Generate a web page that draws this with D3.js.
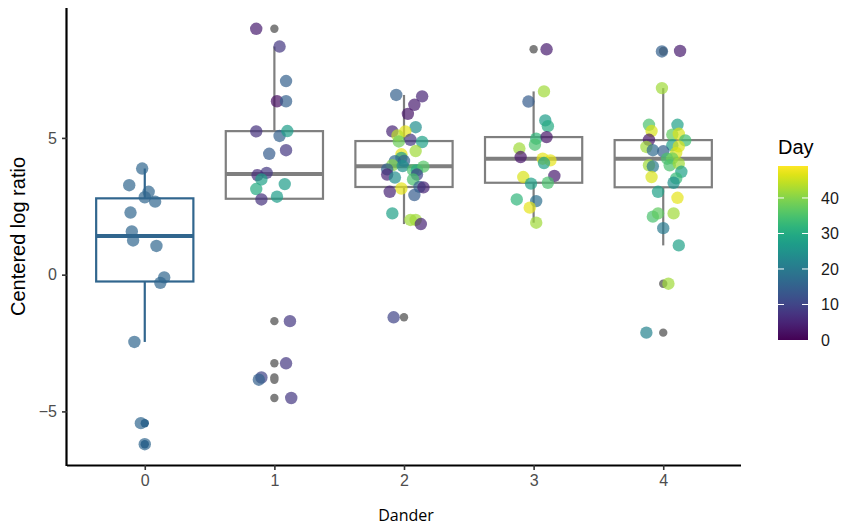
<!DOCTYPE html>
<html>
<head>
<meta charset="utf-8">
<script src="https://cdn.jsdelivr.net/npm/d3@7"></script>
<style>
  body { margin: 0; background: #fff; }
  svg { display: block; }
</style>
</head>
<body>
<svg id="chart" width="851" height="530"></svg>
<script>
// ---- data ----
const categories = ["0", "1", "2", "3", "4"];
const yTicks = [-5, 0, 5];
const dayTicks = [0, 10, 20, 30, 40];
const dayMax = 49;

const clr0 = [3.88, 3.27, 3.03, 2.83, 2.67, 2.27, 1.58, 1.25, 1.05, -0.10, -0.30, -2.46, -5.43, -6.20];
const day0 = [16, 16, 16, 16, 16, 16, 16, 16, 16, 16, 16, 16, 16, 16];
const jit0 = [-0.02, -0.12, 0.03, 0.00, 0.08, -0.11, -0.10, -0.09, 0.09, 0.15, 0.12, -0.08, -0.03, 0.00];

const clr1 = [8.99, 8.34, 7.08, 6.34, 6.34, 5.24, 5.07, 5.25, 4.55, 4.42, 3.72, 3.64, 3.48, 3.31, 3.13, 2.85, 2.75, -1.70, -3.24, -3.76, -3.84, -4.51];
const day1 = [4, 8, 15, 2, 15, 7, 15, 27, 8, 14, 8, 6, 28, 27, 30, 27, 7, 8, 8, 10, 15, 8];
const jit1 = [-0.14, 0.04, 0.09, 0.02, 0.09, -0.14, 0.04, 0.10, 0.09, -0.04, -0.06, -0.13, -0.10, 0.08, -0.14, 0.02, -0.10, 0.12, 0.09, -0.10, -0.12, 0.13];

const clr2 = [6.57, 6.52, 6.21, 5.88, 5.39, 5.24, 5.24, 5.09, 4.87, 4.93, 4.85, 4.52, 4.40, 4.27, 4.15, 4.16, 4.00, 3.97, 3.82, 3.82, 3.95, 3.85, 3.66, 3.55, 3.66, 3.48, 3.15, 3.21, 3.19, 3.03, 2.91, 2.24, 2.00, 2.00, 1.85, -1.56];
const day2 = [15, 5, 4, 3, 24, 5, 47, 44, 38, 8, 28, 42, 47, 27, 17, 15, 40, 25, 35, 30, 36, 15, 5, 24, 10, 35, 47, 15, 5, 5, 14, 28, 42, 42, 5, 10];
const jit2 = [-0.06, 0.14, 0.08, 0.03, 0.09, -0.09, 0.01, -0.05, -0.04, 0.05, 0.14, 0.09, -0.02, -0.02, -0.07, 0.00, -0.09, -0.01, 0.07, 0.10, 0.15, -0.13, -0.13, -0.07, 0.10, 0.07, -0.02, 0.12, 0.15, -0.11, 0.08, -0.09, 0.05, 0.09, 0.13, -0.08];

const clr3 = [8.24, 6.70, 6.33, 5.64, 5.43, 4.97, 5.03, 4.75, 4.61, 4.30, 4.24, 4.18, 4.08, 3.57, 3.61, 3.33, 3.36, 2.75, 2.69, 2.45, 1.90];
const day3 = [4, 42, 14, 27, 30, 32, 3, 35, 42, 3, 47, 47, 28, 46, 4, 28, 35, 32, 18, 47, 42];
const jit3 = [0.10, 0.08, -0.04, 0.09, 0.11, 0.02, 0.10, 0.01, -0.11, -0.10, 0.07, 0.13, 0.08, -0.08, 0.16, -0.02, 0.11, -0.13, 0.02, -0.03, 0.02];

const clr4 = [8.16, 8.18, 6.82, 5.48, 5.48, 5.25, 5.12, 5.15, 4.91, 4.93, 4.67, 4.73, 4.69, 4.55, 4.51, 4.45, 4.24, 4.25, 4.00, 3.96, 4.00, 4.06, 3.76, 3.57, 3.52, 3.36, 3.03, 2.81, 2.12, 2.24, 2.24, 1.70, 1.07, -0.33, -2.12];
const day4 = [15, 4, 42, 35, 28, 46, 37, 46, 34, 3, 42, 28, 46, 17, 15, 46, 35, 38, 42, 20, 35, 42, 28, 46, 33, 25, 28, 47, 35, 37, 42, 20, 28, 42, 22];
const jit4 = [-0.01, 0.13, -0.01, -0.11, 0.11, -0.09, 0.07, 0.12, 0.17, -0.11, -0.13, 0.07, 0.12, -0.08, 0.00, 0.10, 0.03, 0.07, -0.11, -0.08, 0.05, 0.12, 0.14, -0.09, 0.10, 0.08, -0.04, 0.11, -0.08, -0.04, 0.08, 0.00, 0.12, 0.04, -0.13];

const groupValues = [clr0, clr1, clr2, clr3, clr4];
const groupDays = [day0, day1, day2, day3, day4];
const groupJitter = [jit0, jit1, jit2, jit3, jit4];

// ---- layout ----
const svg = d3.select("#chart");
const panel = { left: 67, right: 741, top: 8, bottom: 465 };
const boxGray = "#7f7f7f";
const color = d3.scaleSequential(d3.interpolateViridis).domain([0, dayMax]);

const x = d3.scalePoint().domain(categories)
  .range([panel.left, panel.right]).padding(0.6);
const step = x.step();

const allVals = groupValues.flat();
const yMin = d3.min(allVals), yMax = d3.max(allVals);
const yr = yMax - yMin;
const y = d3.scaleLinear().domain([yMin - 0.05 * yr, yMax + 0.05 * yr])
  .range([panel.bottom, panel.top]);

// ---- boxplots ----
const boxW = step * 0.75;
const gBox = svg.append("g");
groupValues.forEach((vals, i) => {
  const s = vals.slice().sort(d3.ascending);
  const q1 = d3.quantile(s, 0.25), med = d3.quantile(s, 0.5), q3 = d3.quantile(s, 0.75);
  const iqr = q3 - q1;
  const lo = d3.min(s.filter(v => v >= q1 - 1.5 * iqr));
  const hi = d3.max(s.filter(v => v <= q3 + 1.5 * iqr));
  const outs = s.filter(v => v < lo || v > hi);
  const cx = x(categories[i]);
  const col = i === 0 ? color(groupDays[0][0]) : boxGray;
  const g = gBox.append("g");
  g.append("line").attr("x1", cx).attr("x2", cx).attr("y1", y(q3)).attr("y2", y(hi))
    .attr("stroke", col).attr("stroke-width", 2.2);
  g.append("line").attr("x1", cx).attr("x2", cx).attr("y1", y(q1)).attr("y2", y(lo))
    .attr("stroke", col).attr("stroke-width", 2.2);
  g.append("rect").attr("x", cx - boxW / 2).attr("width", boxW)
    .attr("y", y(q3)).attr("height", y(q1) - y(q3))
    .attr("fill", "#fff").attr("stroke", col).attr("stroke-width", 2.2);
  g.append("line").attr("x1", cx - boxW / 2).attr("x2", cx + boxW / 2)
    .attr("y1", y(med)).attr("y2", y(med))
    .attr("stroke", col).attr("stroke-width", 4);
  g.selectAll("circle.out").data(outs).join("circle")
    .attr("class", "out").attr("cx", cx).attr("cy", d => y(d)).attr("r", 4.2)
    .attr("fill", col);
});

// ---- jittered points ----
const pts = [];
groupValues.forEach((vals, i) => {
  vals.forEach((v, j) => pts.push({ cat: categories[i], v, day: groupDays[i][j], jit: groupJitter[i][j] }));
});
svg.append("g").selectAll("circle").data(pts).join("circle")
  .attr("cx", d => x(d.cat) + d.jit * step)
  .attr("cy", d => y(d.v))
  .attr("r", 6.2)
  .attr("fill", d => color(d.day))
  .attr("fill-opacity", 0.7);

// ---- axes ----
const xAxis = svg.append("g").attr("transform", `translate(0,${panel.bottom})`)
  .call(d3.axisBottom(x).tickSize(5).tickPadding(5));
xAxis.select(".domain").attr("d", `M${panel.left},0.5H${panel.right}`)
  .attr("stroke", "#000").attr("stroke-width", 2.2);
xAxis.selectAll(".tick line").attr("stroke", "#333").attr("stroke-width", 1.6);
xAxis.selectAll(".tick text").attr("fill", "#4d4d4d")
  .style("font-family", "Liberation Sans, Arial, sans-serif").style("font-size", "16px");

const yAxis = svg.append("g").attr("transform", `translate(${panel.left},0)`)
  .call(d3.axisLeft(y).tickValues(yTicks).tickSize(5).tickPadding(5)
    .tickFormat(d => d < 0 ? "\u2212" + Math.abs(d) : d));
yAxis.select(".domain").attr("d", `M-0.5,${panel.top}V${panel.bottom + 1}`)
  .attr("stroke", "#000").attr("stroke-width", 2.2);
yAxis.selectAll(".tick line").attr("stroke", "#333").attr("stroke-width", 1.6);
yAxis.selectAll(".tick text").attr("fill", "#4d4d4d")
  .style("font-family", "Liberation Sans, Arial, sans-serif").style("font-size", "16px");

// axis titles
svg.append("text").attr("x", (panel.left + panel.right) / 2 + 2).attr("y", 521)
  .attr("text-anchor", "middle")
  .style("font-family", "Open Sans, sans-serif").style("font-size", "16px").attr("fill", "#000")
  .text("Dander");
svg.append("text")
  .attr("transform", `translate(25,${(panel.top + panel.bottom) / 2}) rotate(-90)`)
  .attr("text-anchor", "middle")
  .style("font-family", "Liberation Sans, Arial, sans-serif").style("font-size", "20px").attr("fill", "#000")
  .text("Centered log ratio");

// ---- legend ----
const leg = { x: 778, w: 30, top: 166, bottom: 340 };
const ly = d3.scaleLinear().domain([0, dayMax]).range([leg.bottom, leg.top]);
const defs = svg.append("defs");
const grad = defs.append("linearGradient").attr("id", "vgrad")
  .attr("x1", 0).attr("y1", 1).attr("x2", 0).attr("y2", 0);
d3.range(0, 1.0001, 0.05).forEach(t => {
  grad.append("stop").attr("offset", t).attr("stop-color", d3.interpolateViridis(t));
});
svg.append("text").attr("x", leg.x).attr("y", 154)
  .style("font-family", "Liberation Sans, Arial, sans-serif").style("font-size", "20px").attr("fill", "#000")
  .text("Day");
svg.append("rect").attr("x", leg.x).attr("y", leg.top)
  .attr("width", leg.w).attr("height", leg.bottom - leg.top).attr("fill", "url(#vgrad)");
const lg = svg.append("g");
dayTicks.filter(d => d > 0).forEach(d => {
  lg.append("line").attr("x1", leg.x).attr("x2", leg.x + 6).attr("y1", ly(d)).attr("y2", ly(d))
    .attr("stroke", "#fff").attr("stroke-width", 1);
  lg.append("line").attr("x1", leg.x + leg.w - 6).attr("x2", leg.x + leg.w).attr("y1", ly(d)).attr("y2", ly(d))
    .attr("stroke", "#fff").attr("stroke-width", 1);
});
lg.selectAll("text").data(dayTicks).join("text")
  .attr("x", leg.x + leg.w + 13).attr("y", d => ly(d)).attr("dy", "0.36em")
  .style("font-family", "Liberation Sans, Arial, sans-serif").style("font-size", "16px").attr("fill", "#1a1a1a")
  .text(d => d);
</script>
</body>
</html>
